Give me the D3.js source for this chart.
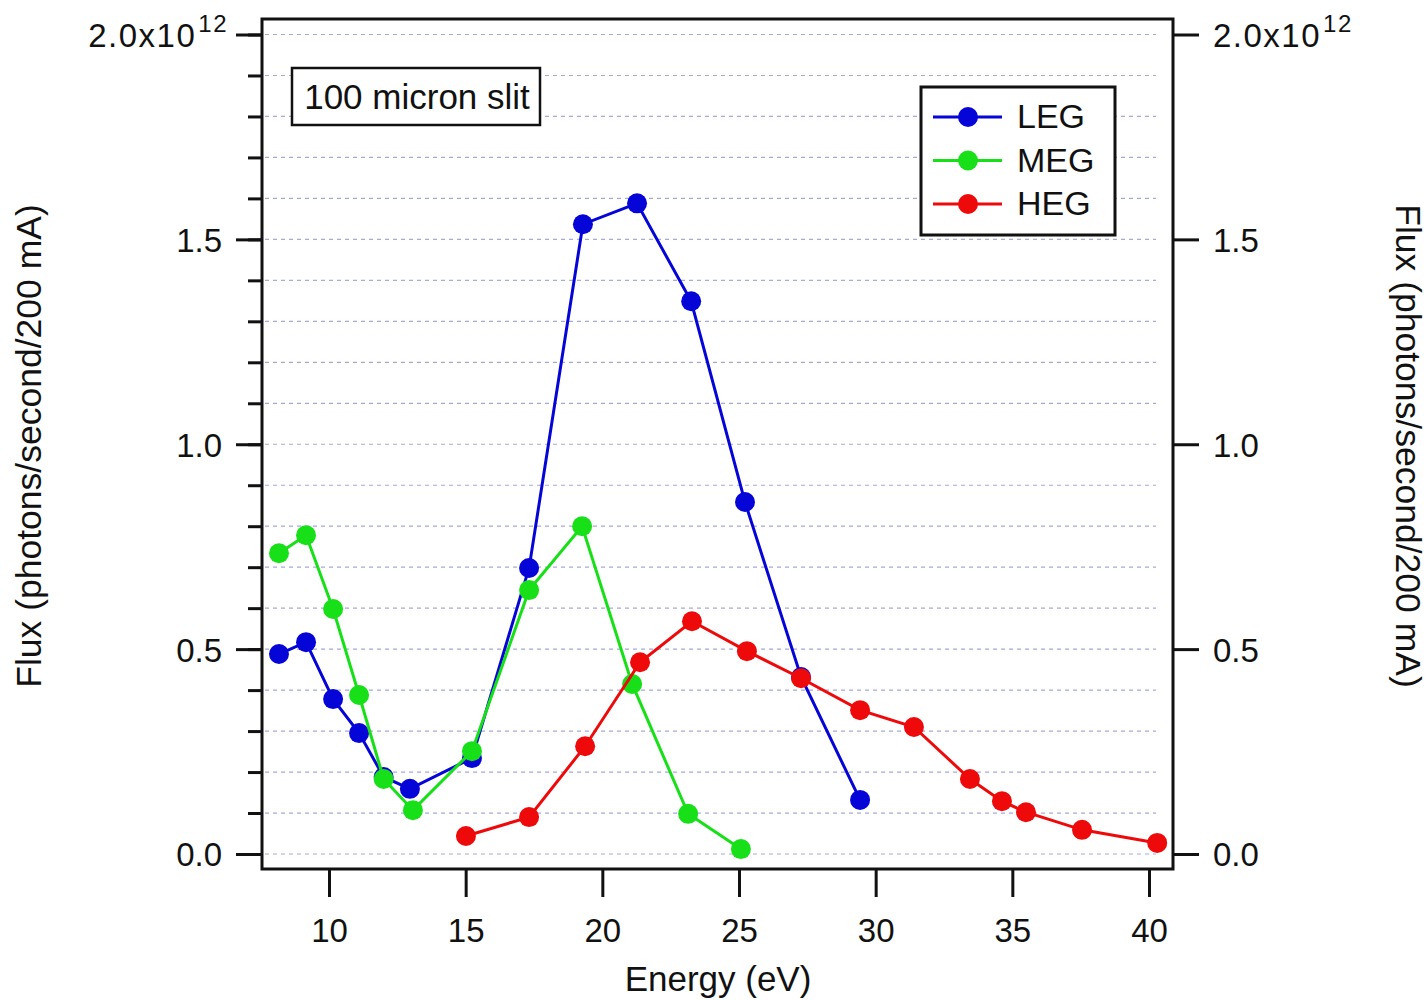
<!DOCTYPE html>
<html><head><meta charset="utf-8">
<script src="https://cdn.jsdelivr.net/npm/d3@7"></script>
<style>body{margin:0;background:#fff}svg{display:block}text{font-family:"Liberation Sans",Arial,sans-serif;fill:#111}</style>
</head><body>
<svg id="c" width="1427" height="1000"></svg>
<script>
// Data (flux in units of 1e12 photons/s/200 mA)
const legEnergy = [8.17, 9.16, 10.15, 11.1, 12.0, 12.96, 15.23, 17.32, 19.29, 21.27, 23.25, 25.22, 27.27, 29.43];
const legFlux   = [0.488, 0.517, 0.378, 0.295, 0.188, 0.159, 0.234, 0.698, 1.537, 1.588, 1.349, 0.859, 0.432, 0.132];
const megEnergy = [8.17, 9.16, 10.15, 11.1, 12.0, 13.07, 15.23, 17.32, 19.26, 21.09, 23.14, 25.07];
const megFlux   = [0.734, 0.778, 0.598, 0.388, 0.183, 0.107, 0.251, 0.644, 0.800, 0.415, 0.098, 0.012];
const hegEnergy = [15.01, 17.32, 19.37, 21.38, 23.28, 25.29, 27.27, 29.43, 31.4, 33.45, 34.62, 35.5, 37.55, 40.3];
const hegFlux   = [0.044, 0.090, 0.263, 0.468, 0.568, 0.495, 0.429, 0.351, 0.310, 0.183, 0.129, 0.102, 0.059, 0.027];
const seriesNames = ["LEG", "MEG", "HEG"];
const seriesColors = ["#0505d8", "#18e018", "#ee0a0a"];
const xTicks = [10, 15, 20, 25, 30, 35, 40];
const yMajorTicks = [0, 0.5, 1.0, 1.5, 2.0];
const yTickLabels = ["0.0", "0.5", "1.0", "1.5", "2.0x10"];
const yExponent = "12";
const yMinorTicks = d3.range(0, 20.5, 1).map(d => d / 10);
const annotation = "100 micron slit";
const xTitle = "Energy (eV)";
const yTitle = "Flux (photons/second/200 mA)";

const series = [
  {name: seriesNames[0], color: seriesColors[0], pts: legEnergy.map((e,i)=>[e, legFlux[i]])},
  {name: seriesNames[1], color: seriesColors[1], pts: megEnergy.map((e,i)=>[e, megFlux[i]])},
  {name: seriesNames[2], color: seriesColors[2], pts: hegEnergy.map((e,i)=>[e, hegFlux[i]])}
];

const FONT = '"Liberation Sans",Arial,sans-serif';
const L = 262, R = 1173, T = 19, B = 869;
const x = d3.scaleLinear().domain([10, 40]).range([329, 1149]);
const y = d3.scaleLinear().domain([0, 2]).range([854, 34.5]);

const svg = d3.select("#c");

// gridlines
svg.append("g").selectAll("line").data(yMinorTicks).join("line")
  .attr("x1", L + 3).attr("x2", 1156)
  .attr("y1", d => y(d)).attr("y2", d => y(d))
  .attr("stroke", "#a6a9dc").attr("stroke-width", 1.2).attr("stroke-dasharray", "4,4");

// annotation box
svg.append("rect").attr("x", 292).attr("y", 68).attr("width", 248).attr("height", 57)
  .attr("fill", "#fff").attr("stroke", "#111").attr("stroke-width", 2.5);
svg.append("text").attr("x", 417).attr("y", 109).attr("text-anchor", "middle")
  .attr("font-size", 35).text(annotation);

// series
const line = d3.line().x(d => x(d[0])).y(d => y(d[1]));
series.forEach(s => {
  svg.append("path").datum(s.pts).attr("d", line).attr("fill", "none")
    .attr("stroke", s.color).attr("stroke-width", 3);
  svg.append("g").selectAll("circle").data(s.pts).join("circle")
    .attr("cx", d => x(d[0])).attr("cy", d => y(d[1])).attr("r", 10).attr("fill", s.color);
});

// frame
svg.append("rect").attr("x", L).attr("y", T).attr("width", R - L).attr("height", B - T)
  .attr("fill", "none").attr("stroke", "#111").attr("stroke-width", 3);

function styleTicks(g) {
  g.select(".domain").remove();
  g.selectAll("line").attr("stroke", "#111").attr("stroke-width", 3);
  g.selectAll("text").attr("font-size", 33).attr("fill", "#111").attr("font-family", FONT);
}

// left axis
const gL = svg.append("g").attr("transform", `translate(${L},0)`)
  .call(d3.axisLeft(y).tickValues(yMinorTicks).tickSize(14).tickFormat(""));
styleTicks(gL);
const gLM = svg.append("g").attr("transform", `translate(${L},0)`)
  .call(d3.axisLeft(y).tickValues(yMajorTicks).tickSize(26).tickPadding(14).tickFormat((d,i) => yTickLabels[i]));
styleTicks(gLM);
gLM.selectAll("text").attr("dy", "0.36em");

// right axis
const gR = svg.append("g").attr("transform", `translate(${R},0)`)
  .call(d3.axisRight(y).tickValues(yMajorTicks).tickSize(26).tickPadding(14).tickFormat((d,i) => yTickLabels[i]));
styleTicks(gR);
gR.selectAll("text").attr("dy", "0.36em");

// exponent label formatting for 2.0 ticks
[gLM, gR].forEach((g, k) => {
  const t = g.selectAll(".tick").filter(d => d === 2).select("text");
  t.attr("letter-spacing", 1.5);
  if (k === 0) t.attr("dx", 6);
  t.append("tspan").attr("font-size", 24).attr("dy", "-0.62em").attr("dx", 2).text(yExponent);
});

// bottom axis
const gB = svg.append("g").attr("transform", `translate(0,${B})`)
  .call(d3.axisBottom(x).tickValues(xTicks).tickSize(28).tickPadding(22).tickFormat(d3.format("d")));
styleTicks(gB);

// axis titles
svg.append("text").attr("x", 718).attr("y", 991).attr("text-anchor", "middle")
  .attr("font-size", 35).text(xTitle);
svg.append("text").attr("transform", "translate(41,446) rotate(-90)").attr("text-anchor", "middle")
  .attr("font-size", 35.5).text(yTitle);
svg.append("text").attr("transform", "translate(1396,446) rotate(90)").attr("text-anchor", "middle")
  .attr("font-size", 35.5).text(yTitle);

// legend
const lg = svg.append("g");
lg.append("rect").attr("x", 921).attr("y", 87).attr("width", 194).attr("height", 148)
  .attr("fill", "#fff").attr("stroke", "#111").attr("stroke-width", 3);
series.forEach((s, i) => {
  const ly = 117 + i * 43.5;
  lg.append("line").attr("x1", 933).attr("x2", 1002).attr("y1", ly).attr("y2", ly)
    .attr("stroke", s.color).attr("stroke-width", 3);
  lg.append("circle").attr("cx", 968).attr("cy", ly).attr("r", 10).attr("fill", s.color);
  lg.append("text").attr("x", 1017).attr("y", ly + 11).attr("font-size", 34).text(s.name);
});
</script>
</body></html>
